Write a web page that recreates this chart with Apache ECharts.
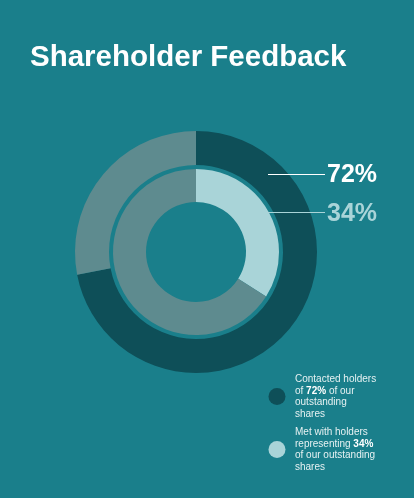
<!DOCTYPE html>
<html><head><meta charset="utf-8">
<script src="https://cdn.jsdelivr.net/npm/echarts@6/dist/echarts.min.js"></script>
<style>html,body{margin:0;padding:0;background:#1a7f8b;}#c{width:414px;height:498px;}</style>
</head><body><div id="c"></div>
<script>
const titleText = 'Shareholder Feedback';
const outerNames = ['Contacted', 'Not contacted'];
const outerValues = [72, 28];
const innerNames = ['Met', 'Not met'];
const innerValues = [34, 66];
const legendLabels = [
  ['Contacted holders', 'of {b|72%} of our', 'outstanding', 'shares'],
  ['Met with holders', 'representing {b|34%}', 'of our outstanding', 'shares']
];

const dark = '#0e4f58', grey = '#5e8b8f', light = '#a9d4d8', bg = '#1a7f8b';
const font = 'Liberation Sans, Arial, sans-serif';

const chart = echarts.init(document.getElementById('c'), null, {renderer: 'canvas'});
chart.setOption({
  backgroundColor: bg,
  animation: false,
  title: {
    text: titleText, left: 25, top: 38,
    textStyle: {color: '#ffffff', fontSize: 29.5, fontWeight: 'bold', fontFamily: font}
  },
  legend: {
    orient: 'vertical', left: 263.5, top: 368.5, itemGap: 7,
    icon: 'circle', itemWidth: 17, itemHeight: 17,
    data: [outerNames[0], innerNames[0]],
    formatter: function (name) {
      const i = name === outerNames[0] ? 0 : 1;
      return legendLabels[i].join('\n');
    },
    textStyle: {
      color: '#e6f1f2', fontSize: 10, fontFamily: font, lineHeight: 11.5, padding: [0,0,0,4.5],
      rich: {b: {fontWeight: 'bold', fontSize: 10, color: '#ffffff', fontFamily: font, lineHeight: 11.5}}
    }
  },
  graphic: [
    {type: 'line', z: 100, silent: true, shape: {x1: 268, y1: 174.5, x2: 325, y2: 174.5}, style: {stroke: '#ffffff', lineWidth: 1}},
    {type: 'text', z: 100, silent: true, left: 327, top: 163, style: {text: outerValues[0] + '%', fill: '#ffffff', font: 'bold 25px ' + font}},
    {type: 'line', z: 100, silent: true, shape: {x1: 244, y1: 212.5, x2: 325, y2: 212.5}, style: {stroke: light, lineWidth: 1}},
    {type: 'text', z: 100, silent: true, left: 327, top: 201.5, style: {text: innerValues[0] + '%', fill: light, font: 'bold 25px ' + font}}
  ],
  series: [
    {
      type: 'pie', silent: true, center: [196, 252], radius: [87, 121], startAngle: 90, clockwise: true,
      label: {show: false}, labelLine: {show: false},
      data: outerNames.map((n, i) => ({name: n, value: outerValues[i], itemStyle: {color: i === 0 ? dark : grey}}))
    },
    {
      type: 'pie', silent: true, center: [196, 252], radius: [50, 83], startAngle: 90, clockwise: true,
      label: {show: false}, labelLine: {show: false},
      data: innerNames.map((n, i) => ({name: n, value: innerValues[i], itemStyle: {color: i === 0 ? light : grey}}))
    }
  ]
});
</script></body></html>
